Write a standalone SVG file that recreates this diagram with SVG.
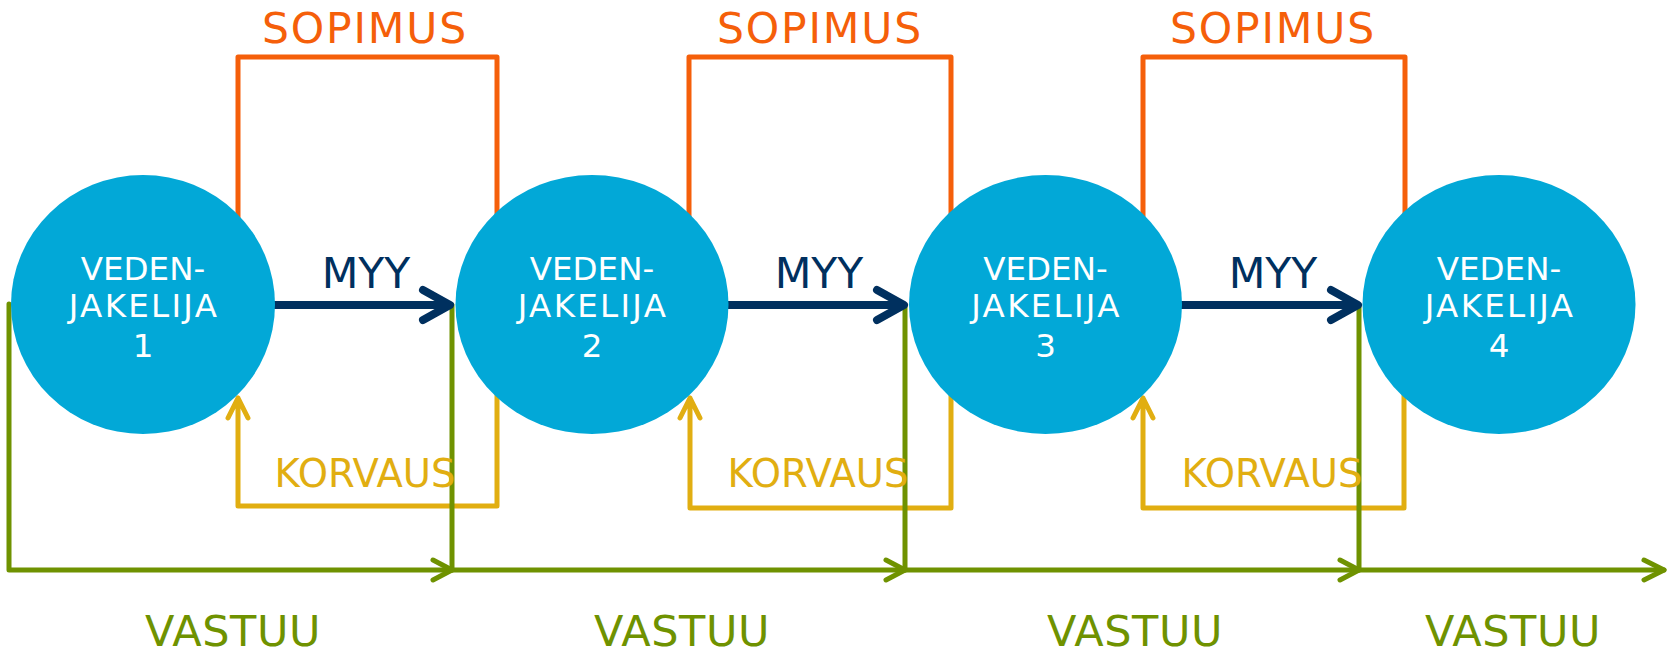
<svg xmlns="http://www.w3.org/2000/svg" width="1669" height="657" viewBox="0 0 1669 657">
<style>
.bg{fill:#ffffff}
.node{fill:#02A8D7}
.ntxt{font-family:"DejaVu Sans","Liberation Sans",sans-serif;font-size:32.5px;fill:#ffffff;text-anchor:middle}
.lbl{font-family:"DejaVu Sans","Liberation Sans",sans-serif;text-anchor:middle}
.sop{stroke:#F55F0A;stroke-width:5;fill:none;stroke-linejoin:round;stroke-linecap:round}
.kor{stroke:#E1AE11;stroke-width:5;fill:none;stroke-linejoin:round;stroke-linecap:round}
.vas{stroke:#6F9200;stroke-width:5;fill:none;stroke-linejoin:round;stroke-linecap:round}
.myy{stroke:#00305F;stroke-width:8;fill:none;stroke-linejoin:round;stroke-linecap:round}
</style>
<rect class="bg" x="0" y="0" width="1669" height="657"/>
<g id="connectors">
  <!-- SOPIMUS brackets -->
  <path class="sop" d="M238,218 V57 H497 V218"/>
  <path class="sop" d="M689,218 V57 H951 V218"/>
  <path class="sop" d="M1143,218 V57 H1405 V218"/>
  <!-- KORVAUS brackets -->
  <path class="kor" d="M497,390 V506 H238 V398 M228,418 L238,398 L248,418"/>
  <path class="kor" d="M951,390 V508 H690 V398 M680,418 L690,398 L700,418"/>
  <path class="kor" d="M1404,390 V508 H1143 V398 M1133,418 L1143,398 L1153,418"/>
  <!-- VASTUU lines -->
  <path class="vas" d="M9,304 V570 H1664"/>
  <path class="vas" d="M452,305 V570"/>
  <path class="vas" d="M905,305 V570"/>
  <path class="vas" d="M1359,305 V570"/>
  <path class="vas" d="M433,560 L452,570 L433,580"/>
  <path class="vas" d="M886,560 L905,570 L886,580"/>
  <path class="vas" d="M1340,560 L1359,570 L1340,580"/>
  <path class="vas" d="M1644,560 L1664,570 L1644,580"/>
  <!-- MYY arrows -->
  <path class="myy" d="M270,305 H449 M423,290 L450,305 L423,320"/>
  <path class="myy" d="M724,305 H902 M877,290 L904,305 L877,320"/>
  <path class="myy" d="M1177,305 H1356 M1331,290 L1358,305 L1331,320"/>
  <!-- labels -->
  <g class="lbl" fill="#F55F0A" font-size="42.5" letter-spacing="1.8">
    <text x="365" y="43">SOPIMUS</text>
    <text x="820" y="43">SOPIMUS</text>
    <text x="1273" y="43">SOPIMUS</text>
  </g>
  <g class="lbl" fill="#00305F" font-size="42.5">
    <text x="366" y="288">MYY</text>
    <text x="819" y="288">MYY</text>
    <text x="1273" y="288">MYY</text>
  </g>
  <g class="lbl" fill="#E1AE11" font-size="38.5">
    <text x="365" y="487">KORVAUS</text>
    <text x="818" y="487">KORVAUS</text>
    <text x="1272" y="487">KORVAUS</text>
  </g>
  <g class="lbl" fill="#6F9200" font-size="43" letter-spacing="0.6">
    <text x="233" y="646">VASTUU</text>
    <text x="682" y="646">VASTUU</text>
    <text x="1135" y="646">VASTUU</text>
    <text x="1513" y="646">VASTUU</text>
  </g>
</g>
<g id="node1">
  <ellipse class="node" cx="143" cy="304.5" rx="132" ry="129.5"/>
  <text class="ntxt" x="143" y="280">VEDEN-</text>
  <text class="ntxt" x="144" y="317" letter-spacing="2.3">JAKELIJA</text>
  <text class="ntxt" x="143" y="357">1</text>
</g>
<g id="node2">
  <ellipse class="node" cx="592" cy="304.5" rx="136.5" ry="129.5"/>
  <text class="ntxt" x="592" y="280">VEDEN-</text>
  <text class="ntxt" x="593" y="317" letter-spacing="2.3">JAKELIJA</text>
  <text class="ntxt" x="592" y="357">2</text>
</g>
<g id="node3">
  <ellipse class="node" cx="1045.5" cy="304.5" rx="136.5" ry="129.5"/>
  <text class="ntxt" x="1045.5" y="280">VEDEN-</text>
  <text class="ntxt" x="1046.5" y="317" letter-spacing="2.3">JAKELIJA</text>
  <text class="ntxt" x="1045.5" y="357">3</text>
</g>
<g id="node4">
  <ellipse class="node" cx="1499" cy="304.5" rx="136.5" ry="129.5"/>
  <text class="ntxt" x="1499" y="280">VEDEN-</text>
  <text class="ntxt" x="1500" y="317" letter-spacing="2.3">JAKELIJA</text>
  <text class="ntxt" x="1499" y="357">4</text>
</g>
</svg>
